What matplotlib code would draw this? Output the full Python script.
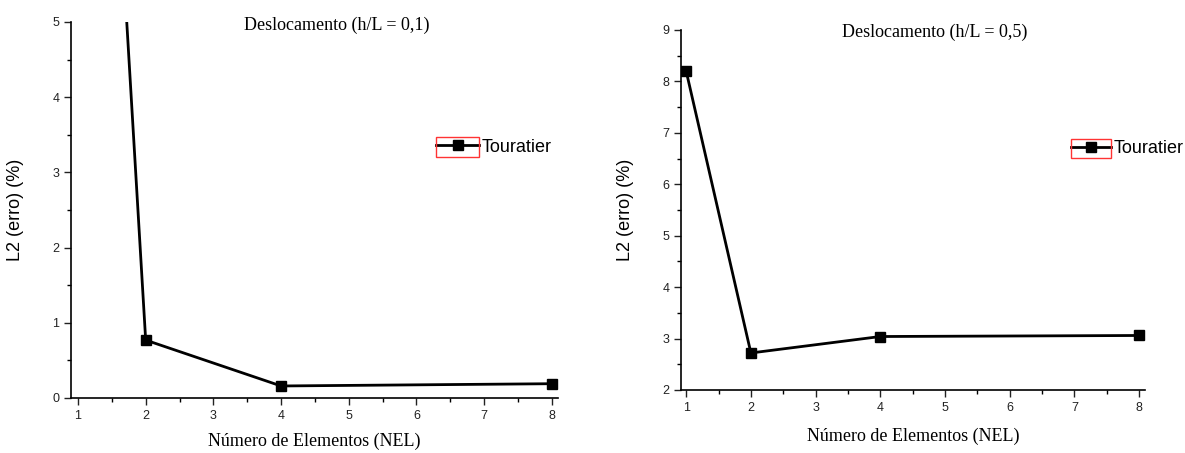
import matplotlib
matplotlib.use("Agg")
import matplotlib.pyplot as plt
from matplotlib.patches import Rectangle
from matplotlib.ticker import MultipleLocator

# ── Data ──────────────────────────────────────────────────────────────────────
NEL = [1, 2, 4, 8]
ERR_01 = [15.9, 0.77, 0.16, 0.19]   # h/L = 0,1 (first point above the axis)
ERR_05 = [8.2, 2.72, 3.04, 3.06]    # h/L = 0,5

SERIES = "Touratier"
XLABEL = "Número de Elementos (NEL)"
YLABEL = "L2 (erro) (%)"

SANS = "Liberation Sans"
SERIF = "Liberation Serif"

fig = plt.figure(figsize=(11.85, 4.53), dpi=100)
W, H = 1185, 453


def px_axes(x0, x1, y0, y1):
    return fig.add_axes([x0 / W, 1 - y1 / H, (x1 - x0) / W, (y1 - y0) / H])


def style(ax, ylim, xlim, ystep):
    ax.set_xlim(*xlim)
    ax.set_ylim(*ylim)
    ax.xaxis.set_major_locator(MultipleLocator(1))
    ax.xaxis.set_minor_locator(MultipleLocator(0.5))
    ax.yaxis.set_major_locator(MultipleLocator(ystep))
    ax.yaxis.set_minor_locator(MultipleLocator(ystep / 2))
    ax.spines[["top", "right"]].set_visible(False)
    for s in ("left", "bottom"):
        ax.spines[s].set_linewidth(1.2)
    ax.tick_params(which="major", direction="out", length=5, width=1, labelsize=9,
                   colors="#222222")
    ax.tick_params(which="minor", direction="out", length=3, width=1)
    for lab in ax.get_xticklabels() + ax.get_yticklabels():
        lab.set_fontfamily(SANS)


def panel(ax, y, title, title_xy, xlab_pad, ylab_pad):
    ax.plot(NEL, y, color="black", linewidth=2, marker="s", markersize=7,
            clip_on=True, label=SERIES)
    ax.text(title_xy[0], title_xy[1], title, transform=ax.transAxes,
            ha="center", va="center", fontsize=13, family=SERIF)
    ax.set_xlabel(XLABEL, fontsize=13, family=SERIF, labelpad=xlab_pad)
    ax.set_ylabel(YLABEL, fontsize=13, family=SANS, labelpad=ylab_pad)


# left panel
ax1 = px_axes(71, 558, 22, 398)
style(ax1, (0, 5), (0.897, 8.09), 1)
panel(ax1, ERR_01, "Deslocamento (h/L = 0,1)", (0.546, 0.992), 8, 20)

# right panel
ax2 = px_axes(681, 1145, 30, 390)
style(ax2, (2, 9), (0.92, 8.09), 1)
panel(ax2, ERR_05, "Deslocamento (h/L = 0,5)", (0.547, 0.994), 10, 20)

# legends with the red frame around the handle
for ax, (bx0, by0, bx1, by1) in ((ax1, (436, 137, 479, 157)),
                                 (ax2, (1071, 139, 1111, 158))):
    fs = 13
    hl = (bx1 - bx0) * 0.72 / fs   # handle length in font-size units
    ax.legend(loc="center left",
              bbox_to_anchor=(bx0 / W, 1 - (by0 + by1) / 2 / H),
              bbox_transform=fig.transFigure, frameon=False,
              handlelength=hl, handletextpad=0.15, borderpad=0, borderaxespad=0,
              prop={"family": SANS, "size": fs})
    fig.patches.append(Rectangle((bx0 / W, 1 - by1 / H), (bx1 - bx0) / W,
                                 (by1 - by0) / H, transform=fig.transFigure,
                                 fill=False, edgecolor="#ff3333", linewidth=1))

fig.savefig("out.png", dpi=100)
